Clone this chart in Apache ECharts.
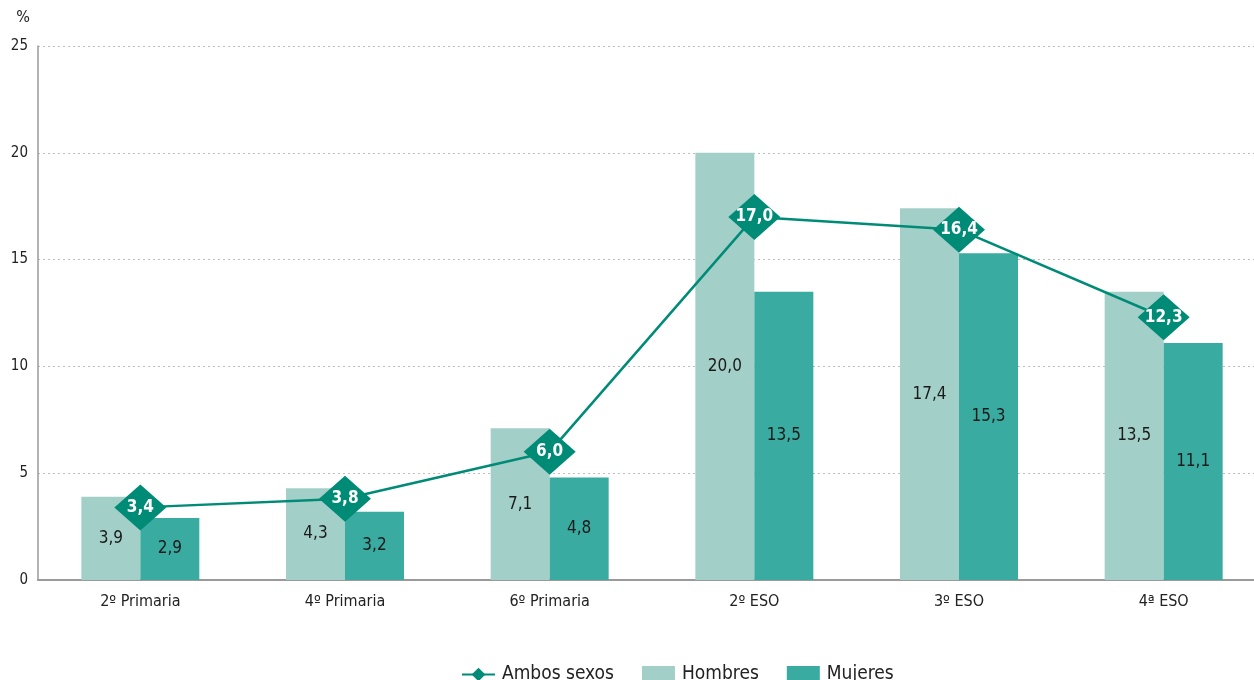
<!DOCTYPE html>
<html><head><meta charset="utf-8">
<script src="https://cdn.jsdelivr.net/npm/echarts@6/dist/echarts.min.js"></script>
<style>html,body{margin:0;padding:0;background:#fff}#c{width:1254px;height:680px}</style>
</head><body><div id="c"></div>
<script>
const categories = ['2º Primaria','4º Primaria','6º Primaria','2º ESO','3º ESO','4ª ESO'];
const hombres = [3.9, 4.3, 7.1, 20.0, 17.4, 13.5];
const mujeres = [2.9, 3.2, 4.8, 13.5, 15.3, 11.1];
const ambos = [3.4, 3.8, 6.0, 17.0, 16.4, 12.3];
const yTicks = [0, 5, 10, 15, 20, 25];

const FONT = '"Liberation Sans Narrow","DejaVu Sans Condensed","Open Sans",sans-serif';
const fmt = p => p.value.toFixed(1).replace('.', ',');
const chart = echarts.init(document.getElementById('c'));
chart.setOption({
  animation: false,
  textStyle: {fontFamily: FONT},
  grid: {left: 38, width: 1228, top: 46, bottom: 100, containLabel: false, outerBoundsMode: 'none'},
  legend: {
    top: 660, left: 456, itemGap: 28, itemWidth: 33, itemHeight: 17,
    textStyle: {fontSize: 19, color: '#222', fontFamily: FONT, padding: [0, 0, 0, 2]},
    data: [
      {name: 'Ambos sexos'},
      {name: 'Hombres', icon: 'rect'},
      {name: 'Mujeres', icon: 'rect'}
    ]
  },
  xAxis: {
    type: 'category', data: categories,
    axisLine: {lineStyle: {color: '#9a9a9a', width: 2}},
    axisTick: {show: false},
    axisLabel: {fontSize: 16, color: '#222', margin: 14, fontFamily: FONT}
  },
  yAxis: {
    type: 'value', min: 0, max: 25, interval: 5,
    name: '%', nameLocation: 'end', nameGap: 20,
    nameTextStyle: {fontSize: 16, color: '#222', align: 'right', padding: [0, 8, 0, 0]},
    axisLine: {show: true, lineStyle: {color: '#9a9a9a', width: 1.5}},
    axisTick: {show: false},
    axisLabel: {fontSize: 15, color: '#222', margin: 10, fontFamily: FONT,
      formatter: v => yTicks.includes(v) ? String(v) : ''},
    splitLine: {lineStyle: {color: '#bdbdbd', type: [2, 3], width: 1}}
  },
  series: [
    {
      name: 'Hombres', type: 'bar', data: hombres, barWidth: 59, barGap: '0%',
      itemStyle: {color: '#a3cfc9'},
      label: {show: true, position: 'inside', formatter: fmt, fontSize: 17, color: '#1a1a1a', fontFamily: FONT}
    },
    {
      name: 'Mujeres', type: 'bar', data: mujeres, barWidth: 59,
      itemStyle: {color: '#3aaba0'},
      label: {show: true, position: 'inside', formatter: fmt, fontSize: 17, color: '#1a1a1a', fontFamily: FONT}
    },
    {
      name: 'Ambos sexos', type: 'line', data: ambos, z: 5,
      symbol: 'diamond', symbolSize: [52, 46],
      lineStyle: {color: '#008b77', width: 2.5},
      itemStyle: {color: '#008b77'},
      label: {show: true, position: 'inside', formatter: fmt, fontSize: 17, fontWeight: 'bold', color: '#fff', fontFamily: FONT}
    }
  ]
});
</script></body></html>
